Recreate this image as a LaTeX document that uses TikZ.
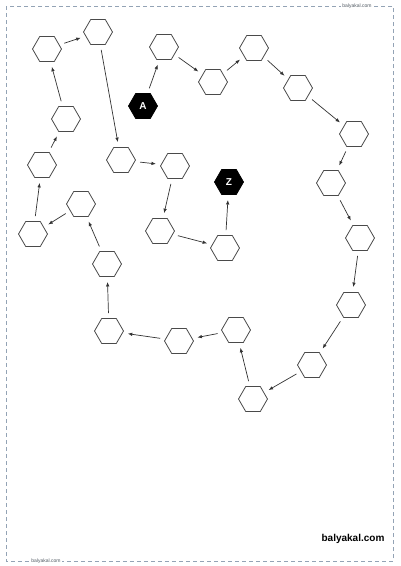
\documentclass[tikz,border=0pt]{standalone}
\usepackage{fontspec}
\setmainfont{Liberation Sans}
\usepackage{tikz}
\usetikzlibrary{arrows.meta,shapes.geometric}
\definecolor{hexline}{HTML}{4A4A4A}
\definecolor{arrowcol}{HTML}{333333}
\definecolor{framecol}{HTML}{93A3B5}
\tikzset{
  hexcell/.style={regular polygon,regular polygon sides=6,minimum size=29pt,inner sep=0pt,draw=hexline,line width=0.8pt,fill=white},
  endcell/.style={hexcell,draw=black,fill=black,text=white,font=\bfseries\fontsize{10}{12}\selectfont},
  arr/.style={draw=arrowcol,line width=0.7pt,-{Latex[length=4.5pt,width=3.5pt]},shorten >=5pt,shorten <=5pt},
  site/.style={font=\fontsize{5}{6}\selectfont,text=framecol!55!black,fill=white,inner sep=1.5pt}
}

\begin{document}
\begin{tikzpicture}[x=1pt,y=-1pt]
    \useasboundingbox[fill=white] (0,0) rectangle (400,566);
    % Frame
    \draw[framecol,line width=0.6pt,dash pattern=on 4pt off 3pt] (6,6) rectangle (393,561);
    \node[site] (webtop) at (357,6) {balyakal.com};
    \node[site] (webbot) at (46,561) {balyakal.com};
    \node[font=\bfseries\fontsize{10}{12}\selectfont] (webmain) at (353,539) {balyakal.com};
    % Start and end
    \node[endcell] (A) at (143,106) {A};
    \node[endcell] (Z) at (229,182) {Z};
    % Cells
    \node[hexcell] (h1) at (164,47) {};
    \node[hexcell] (h2) at (213,82) {};
    \node[hexcell] (h3) at (254,48) {};
    \node[hexcell] (h4) at (298,88) {};
    \node[hexcell] (h5) at (354,134) {};
    \node[hexcell] (h6) at (331,183) {};
    \node[hexcell] (h7) at (360,238) {};
    \node[hexcell] (h8) at (351,305) {};
    \node[hexcell] (h9) at (312,365) {};
    \node[hexcell] (h10) at (253,399) {};
    \node[hexcell] (h11) at (236,330) {};
    \node[hexcell] (h12) at (179,341) {};
    \node[hexcell] (h13) at (109,331) {};
    \node[hexcell] (h14) at (107,264) {};
    \node[hexcell] (h15) at (81,204) {};
    \node[hexcell] (h16) at (33,234) {};
    \node[hexcell] (h17) at (42,165) {};
    \node[hexcell] (h18) at (66,119) {};
    \node[hexcell] (h19) at (47,49) {};
    \node[hexcell] (h20) at (98,32) {};
    \node[hexcell] (h21) at (121,160) {};
    \node[hexcell] (h22) at (175,166) {};
    \node[hexcell] (h23) at (160,231) {};
    \node[hexcell] (h24) at (225,248) {};
    % Path
    \draw[arr] (A) -- (h1);
    \draw[arr] (h1) -- (h2);
    \draw[arr] (h2) -- (h3);
    \draw[arr] (h3) -- (h4);
    \draw[arr] (h4) -- (h5);
    \draw[arr] (h5) -- (h6);
    \draw[arr] (h6) -- (h7);
    \draw[arr] (h7) -- (h8);
    \draw[arr] (h8) -- (h9);
    \draw[arr] (h9) -- (h10);
    \draw[arr] (h10) -- (h11);
    \draw[arr] (h11) -- (h12);
    \draw[arr] (h12) -- (h13);
    \draw[arr] (h13) -- (h14);
    \draw[arr] (h14) -- (h15);
    \draw[arr] (h15) -- (h16);
    \draw[arr] (h16) -- (h17);
    \draw[arr] (h17) -- (h18);
    \draw[arr] (h18) -- (h19);
    \draw[arr] (h19) -- (h20);
    \draw[arr] (h20) -- (h21);
    \draw[arr] (h21) -- (h22);
    \draw[arr] (h22) -- (h23);
    \draw[arr] (h23) -- (h24);
    \draw[arr] (h24) -- (Z);
\end{tikzpicture}
\end{document}
